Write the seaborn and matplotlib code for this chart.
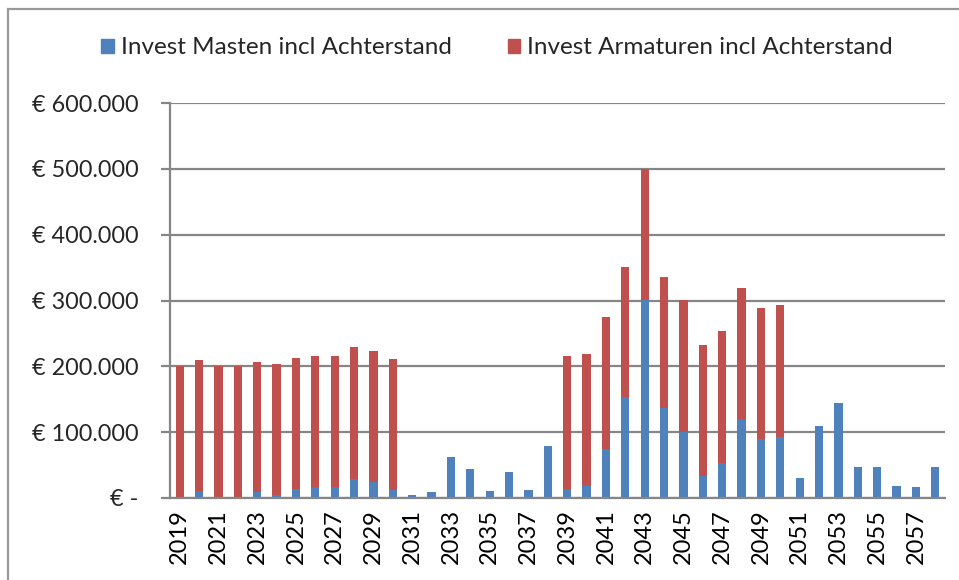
import numpy as np
import pandas as pd
import seaborn as sns
import matplotlib.pyplot as plt
from matplotlib.patches import Rectangle, Patch
from matplotlib.ticker import FuncFormatter, FixedLocator

years = list(range(2019, 2059))
masten = [0, 10600, 2000, 2000, 8600, 4600, 14000, 16000, 16000, 29000,
          24000, 12700, 4600, 8600, 63000, 44000, 10600, 39500, 12000, 79000,
          14000, 18000, 75000, 153000, 301000, 136000, 100000, 34000, 53000, 119500,
          90000, 92000, 30000, 110000, 145000, 47000, 47000, 17700, 16000, 47000]
armaturen = [201000, 198400, 199000, 199000, 198400, 198400, 198700, 199000, 199000, 200000,
             199000, 198300, 0, 0, 0, 0, 0, 0, 0, 0,
             201000, 201000, 200000, 198000, 199000, 200000, 201000, 198000, 201000, 199000,
             198600, 201000, 0, 0, 0, 0, 0, 0, 0, 0]

blue = "#4F81BD"
red = "#C0504D"
grid_col = "#868686"

df = pd.DataFrame({"year": [str(y) for y in years], "masten": masten, "armaturen": armaturen})
df["total"] = df["masten"] + df["armaturen"]

sns.set_theme(style="white")
plt.rcParams["font.family"] = ["Lato", "DejaVu Sans"]

fig = plt.figure(figsize=(9.59, 5.80), dpi=100)
ax = fig.add_axes([170 / 959, 1 - 498 / 580, (945 - 170) / 959, (498 - 103) / 580])

sns.barplot(data=df, x="year", y="total", color=red, width=0.42, saturation=1,
            linewidth=0, edgecolor="none", ax=ax)
sns.barplot(data=df, x="year", y="masten", color=blue, width=0.42, saturation=1,
            linewidth=0, edgecolor="none", ax=ax)

ax.set_xlim(-0.5, len(years) - 0.5)
ax.set_ylim(0, 600000)
ax.set_xlabel("")
ax.set_ylabel("")

ax.set_yticks(np.arange(0, 600001, 100000))
ax.yaxis.set_major_formatter(FuncFormatter(
    lambda v, p: "€ -" if v == 0 else "€ " + f"{v:,.0f}".replace(",", ".")))
ax.grid(axis="y", color=grid_col, linewidth=1.6)
ax.set_axisbelow(True)

ax.xaxis.set_major_locator(FixedLocator(list(range(0, len(years), 2))))
ax.set_xticklabels([str(y) for y in years[::2]], rotation=90)
ax.xaxis.set_minor_locator(FixedLocator(np.arange(-0.5, len(years), 1.0)))
ax.tick_params(axis="x", which="major", length=0, pad=8, labelsize=17, colors="black")
ax.tick_params(axis="x", which="minor", length=5, width=1.6, color=grid_col, direction="out")
ax.tick_params(axis="y", length=6.5, width=1.6, color=grid_col, pad=16, labelsize=16.8)
ax.tick_params(left=True, bottom=True)

for s in ["top", "right"]:
    ax.spines[s].set_visible(False)
for s in ["left", "bottom"]:
    ax.spines[s].set_color(grid_col)
    ax.spines[s].set_linewidth(1.6)

handles = [Patch(color=blue, label="Invest Masten incl Achterstand"),
           Patch(color=red, label="Invest Armaturen incl Achterstand")]
fig.legend(handles=handles, loc="center", bbox_to_anchor=(497 / 959, 1 - 48 / 580),
           ncol=2, frameon=False, fontsize=17.5, handlelength=0.5, handleheight=0.5,
           handletextpad=0.3, columnspacing=2.3)

fig.add_artist(Rectangle((8 / 959, -0.1), 2, (580 - 9) / 580 + 0.1, transform=fig.transFigure,
                         fill=False, edgecolor="#9A9A9A", linewidth=1.6))

fig.savefig("out.png", dpi=100)
